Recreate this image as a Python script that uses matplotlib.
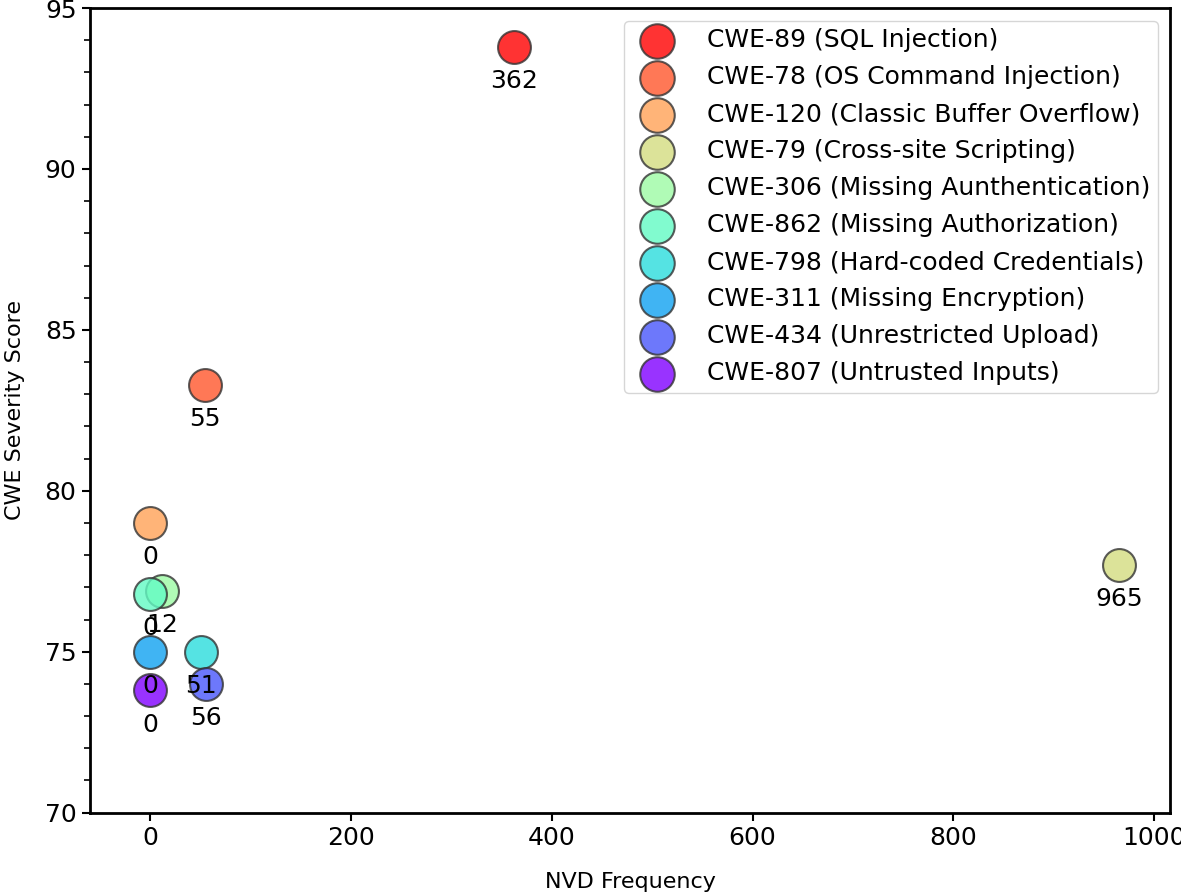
import matplotlib
matplotlib.use("Agg")
import matplotlib.pyplot as plt
import numpy as np
from matplotlib.ticker import MultipleLocator

labels = ['CWE-89 (SQL Injection)', 'CWE-78 (OS Command Injection)',
          'CWE-120 (Classic Buffer Overflow)', 'CWE-79 (Cross-site Scripting)',
          'CWE-306 (Missing Aunthentication)', 'CWE-862 (Missing Authorization)',
          'CWE-798 (Hard-coded Credentials)', 'CWE-311 (Missing Encryption)',
          'CWE-434 (Unrestricted Upload)', 'CWE-807 (Untrusted Inputs)']
nvd_freq = [362, 55, 0, 965, 12, 0, 51, 0, 56, 0]
severity = [93.8, 83.3, 79.0, 77.7, 76.9, 76.8, 75.0, 75.0, 74.0, 73.8]

colors = plt.cm.rainbow(np.linspace(1, 0, len(labels)))

fig = plt.figure(figsize=(11.81, 8.96), dpi=100)
ax = fig.add_axes([0.076, 0.093, 0.915, 0.898])

for i in range(len(labels)):
    ax.scatter(nvd_freq[i], severity[i], s=560, color=colors[i], alpha=0.8,
               edgecolors='#333333', linewidths=1.5, label=labels[i], zorder=3)
    ax.annotate(str(nvd_freq[i]), (nvd_freq[i], severity[i]),
                xytext=(0, -16), textcoords='offset points',
                ha='center', va='top', fontsize=18, zorder=4)

ax.set_xlim(-60, 1016)
ax.set_ylim(70, 95)
ax.yaxis.set_major_locator(MultipleLocator(5))
ax.yaxis.set_minor_locator(MultipleLocator(1))
ax.tick_params(axis='both', labelsize=18, length=6, width=1.5)
ax.tick_params(axis='y', which='minor', length=4, width=1.2)
for sp in ax.spines.values():
    sp.set_linewidth(2)
ax.set_xlabel('NVD Frequency', fontsize=16, labelpad=16)
ax.set_ylabel('CWE Severity Score', fontsize=16, labelpad=14)

ax.legend(loc='upper right', fontsize=18, markerscale=1.05, handletextpad=1.0,
          labelspacing=0.52, borderpad=0.3, borderaxespad=0.5)

fig.savefig('out.png', dpi=100)
